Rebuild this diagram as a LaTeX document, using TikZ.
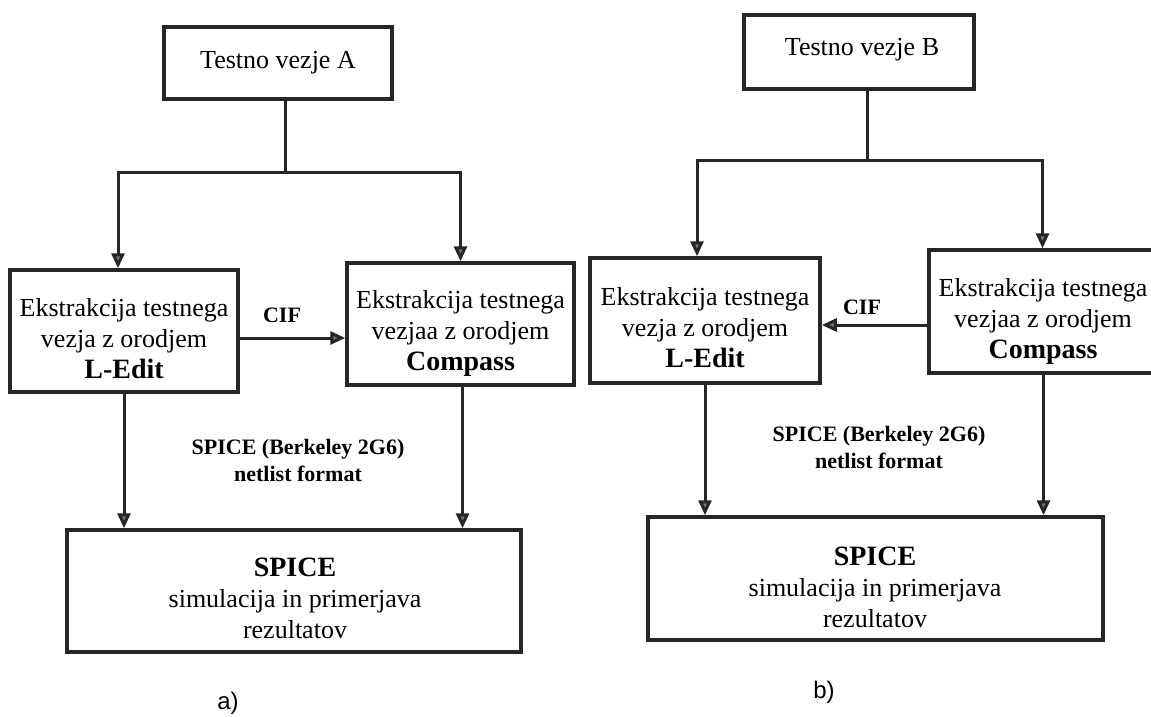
\documentclass[tikz,border=0pt]{standalone}
\usepackage{fontspec}
\setmainfont{Liberation Serif}
\newfontfamily\labfont{Liberation Sans}
\usetikzlibrary{arrows.meta}
\begin{document}
\begin{tikzpicture}[x=1pt,y=-1pt,
  box/.style={draw=black!85, line width=3.5pt, inner sep=0pt},
  txt/.style={align=center, inner sep=0pt, font=\fontsize{26}{31}\selectfont},
  lbl/.style={align=center, inner sep=0pt, font=\bfseries\fontsize{22}{27}\selectfont},
  arr/.style={draw=black!85, line width=3pt, -{Triangle[length=15pt,width=13pt,fill=black!55]}},
  ln/.style={draw=black!85, line width=3pt},
  sub/.style={inner sep=0pt, font=\labfont\fontsize{24}{28}\selectfont}]
\useasboundingbox (0,0) rectangle (1151,717);
\clip (0,0) rectangle (1151,717);
\fill[white] (0,0) rectangle (1151,717);

% ---------- a) ----------
\node[box, minimum width=228pt, minimum height=72pt] (TA) at (278,63) {};
\node[txt] (TAt) at (278,63) {Testno vezje A};
\node[box, minimum width=228pt, minimum height=122pt] (LA) at (124,331) {};
\node[txt] (LAt) at (124,339) {Ekstrakcija testnega\\vezja z orodjem\\{\bfseries\fontsize{28}{31}\selectfont L-Edit}};
\node[box, minimum width=227pt, minimum height=122pt] (CA) at (460.5,324) {};
\node[txt] (CAt) at (460.5,333) {Ekstrakcija testnega\\vezjaa z orodjem\\{\bfseries\fontsize{28}{31}\selectfont Compass}};
\node[box, minimum width=454pt, minimum height=122pt] (SA) at (294,591) {};
\node[txt] (SAt) at (295,598) {{\bfseries\fontsize{28}{31}\selectfont SPICE}\\simulacija in primerjava\\rezultatov};

\coordinate (jA) at (285,172);
\draw[ln] (TA.south -| jA) -- (jA);
\draw[arr] (jA) -| ([xshift=-6pt]LA.north);
\draw[arr] (jA) -| (CA.north);
\coordinate (cifA) at (290,338);
\draw[arr] (LA.east |- cifA) -- (CA.west |- cifA);
\node[lbl] (cifAt) at (282,315) {CIF};
\draw[arr] (LA.south) -- (LA.south |- SA.north);
\draw[arr] ([xshift=2pt]CA.south) -- ([xshift=2pt]CA.south |- SA.north);
\node[lbl] (netA) at (298,460) {SPICE (Berkeley 2G6)\\netlist format};
\node[sub] (capA) at (228,703) {a)};

% ---------- b) ----------
\node[box, minimum width=230pt, minimum height=74pt] (TB) at (859,52) {};
\node[txt] (TBt) at (862,50) {Testno vezje B};
\node[box, minimum width=230pt, minimum height=125pt] (LB) at (705,320.5) {};
\node[txt] (LBt) at (705,328) {Ekstrakcija testnega\\vezja z orodjem\\{\bfseries\fontsize{28}{31}\selectfont L-Edit}};
\node[box, minimum width=231pt, minimum height=123pt] (CB) at (1044.5,311.5) {};
\node[txt] (CBt) at (1043,321) {Ekstrakcija testnega\\vezjaa z orodjem\\{\bfseries\fontsize{28}{31}\selectfont Compass}};
\node[box, minimum width=455pt, minimum height=123pt] (SB) at (875.5,578.5) {};
\node[txt] (SBt) at (875,587) {{\bfseries\fontsize{28}{31}\selectfont SPICE}\\simulacija in primerjava\\rezultatov};

\coordinate (jB) at (867,160);
\draw[ln] (TB.south -| jB) -- (jB);
\draw[arr] (jB) -| ([xshift=-8pt]LB.north);
\draw[arr] (jB) -| ([xshift=-2pt]CB.north);
\coordinate (cifB) at (870,325);
\draw[arr] (CB.west |- cifB) -- (LB.east |- cifB);
\node[lbl] (cifBt) at (862,307) {CIF};
\draw[arr] (LB.south) -- (LB.south |- SB.north);
\draw[arr] ([xshift=-1pt]CB.south) -- ([xshift=-1pt]CB.south |- SB.north);
\node[lbl] (netB) at (879,447) {SPICE (Berkeley 2G6)\\netlist format};
\node[sub] (capB) at (824,692) {b)};
\end{tikzpicture}
\end{document}
